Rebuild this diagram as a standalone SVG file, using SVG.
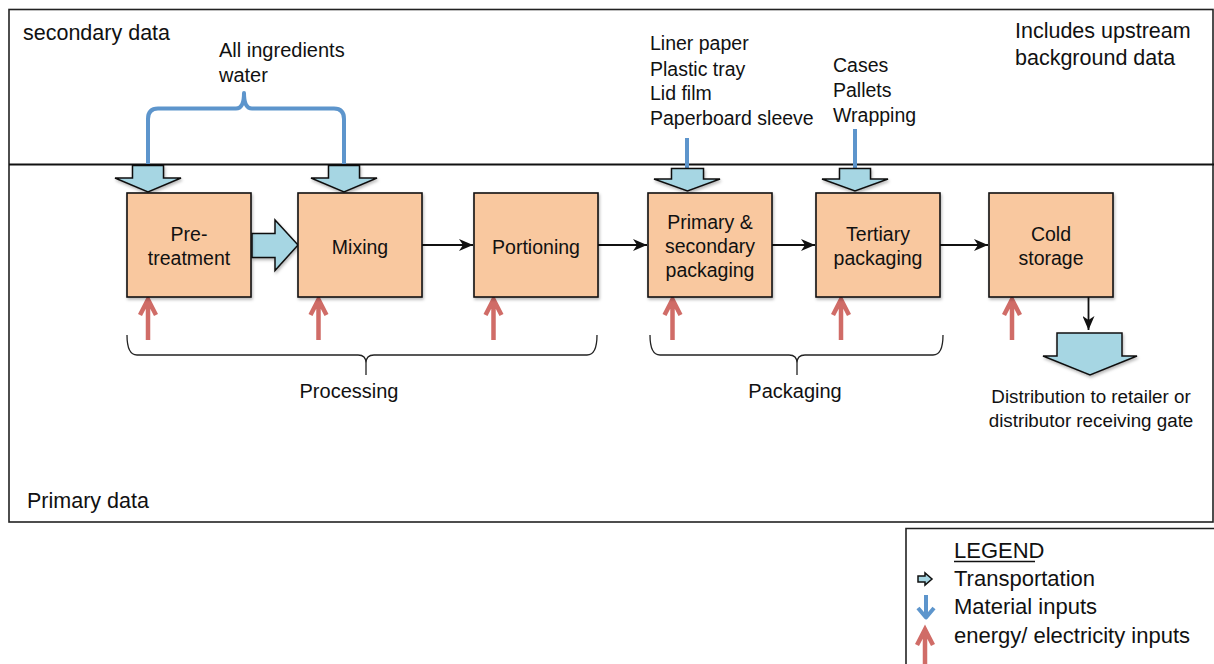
<svg xmlns="http://www.w3.org/2000/svg" xmlns:xlink="http://www.w3.org/1999/xlink" width="1214" height="664" viewBox="0 0 1214 664">
  <style>
    text { font-family: "Liberation Sans", Arial, sans-serif; fill: #111; }
    .lbl { font-size: 20px; }
    .inputs { font-size: 19.5px; }
    .region { font-size: 21.5px; }
    .box-text { font-size: 19.5px; text-anchor: middle; }
    .small { font-size: 18.8px; text-anchor: middle; }
    .legend-text { font-size: 22px; }
    .box { fill: #F9C89F; stroke: #111; stroke-width: 1.6; filter: url(#shadow); }
    .transport { fill: #A6D6E3; stroke: #111; stroke-width: 1.5; stroke-linejoin: miter; filter: url(#shadow); }
    .material { fill: none; stroke: #5D95CC; stroke-width: 4; stroke-linejoin: round; }
    .energy { fill: none; stroke: #D06C67; stroke-width: 4.5; }
    .flow { stroke: #111; stroke-width: 1.8; fill: none; marker-end: url(#stealth); }
    .brace { fill: none; stroke: #222; stroke-width: 1.3; }
    .frame { fill: none; stroke: #222; stroke-width: 1.6; }
  </style>
  <defs>
    <filter id="shadow" x="-10%" y="-10%" width="130%" height="130%">
      <feDropShadow dx="1" dy="2" stdDeviation="1.5" flood-color="#000" flood-opacity="0.28"/>
    </filter>
    <marker id="stealth" markerUnits="userSpaceOnUse" markerWidth="16" markerHeight="12" refX="14" refY="6" orient="auto">
      <path d="M0,0 L14,6 L0,12 L4,6 Z" fill="#111"/>
    </marker>
    <!-- energy input arrow: tip at origin, shaft pointing down -->
    <path id="energyArrow" class="energy" d="M0,42 V2 M-8,17 L0,1.5 L8,17"/>
    <!-- material input arrow: tip at origin, shaft pointing up -->
    <path id="materialArrow" class="material" d="M0,-24 V-2 M-8,-11 L0,-1.5 L8,-11"/>
  </defs>

  <!-- frame and divider -->
  <g id="frame">
    <rect class="frame" x="9" y="9.5" width="1204" height="512.5"/>
    <line x1="9" y1="164.5" x2="1214" y2="164.5" stroke="#111" stroke-width="2.2"/>
    <text class="region" x="23" y="40">secondary data</text>
    <text class="region" x="1015" y="38">Includes upstream</text>
    <text class="region" x="1015" y="65">background data</text>
    <text class="region" x="27" y="508">Primary data</text>
  </g>

  <!-- material inputs (secondary data) -->
  <g id="inputs">
    <text class="lbl" x="219" y="57">All ingredients</text>
    <text class="lbl" x="219" y="82">water</text>
    <text class="inputs" x="650" y="50">Liner paper</text>
    <text class="inputs" x="650" y="76">Plastic tray</text>
    <text class="inputs" x="650" y="100">Lid film</text>
    <text class="inputs" x="650" y="125">Paperboard sleeve</text>
    <text class="inputs" x="833" y="72">Cases</text>
    <text class="inputs" x="833" y="97">Pallets</text>
    <text class="inputs" x="833" y="122">Wrapping</text>
  </g>

  <!-- connectors -->
  <g id="connectors">
    <!-- material input lines -->
    <path class="material" d="M148,164 V119 Q148,108.5 158,108.5 H236 Q244,108.5 244,93 Q244,108.5 252,108.5 H334 Q344,108.5 344,119 V164"/>
    <line class="material" x1="687" y1="138" x2="687" y2="168"/>
    <line class="material" x1="855" y1="129" x2="855" y2="168"/>

    <!-- transport arrows into process boxes -->
    <path class="transport" d="M132.5,165.5 H163.5 V178 H181 L148,192 L115,178 H132.5 Z"/>
    <path class="transport" d="M328.5,165.5 H359.5 V178 H377 L344,192 L311,178 H328.5 Z"/>
    <path class="transport" d="M671.5,168.5 H703.5 V179 H720 L687.5,191 L654,179 H671.5 Z"/>
    <path class="transport" d="M839.5,168.5 H870.5 V179 H888 L855,191 L822,179 H839.5 Z"/>

    <!-- transport from pre-treatment to mixing -->
    <path class="transport" d="M252,233.5 H275 V220 L298,245 L275,270.5 V257.5 H252 Z"/>

    <!-- process flow -->
    <line class="flow" x1="422" y1="245" x2="473" y2="245"/>
    <line class="flow" x1="598" y1="245" x2="647" y2="245"/>
    <line class="flow" x1="772" y1="245" x2="815" y2="245"/>
    <line class="flow" x1="940" y1="245" x2="988" y2="245"/>
    <line class="flow" x1="1088.5" y1="297" x2="1088.5" y2="330"/>

    <!-- distribution transport -->
    <path class="transport" d="M1057,333 H1122 V356 H1137 L1090,375 L1043,356 H1057 Z"/>

    <!-- energy inputs -->
    <use xlink:href="#energyArrow" x="148" y="298"/>
    <use xlink:href="#energyArrow" x="318.5" y="298"/>
    <use xlink:href="#energyArrow" x="493.5" y="298"/>
    <use xlink:href="#energyArrow" x="672.5" y="298"/>
    <use xlink:href="#energyArrow" x="841" y="298"/>
    <use xlink:href="#energyArrow" x="1012" y="298"/>

    <!-- stage braces -->
    <path class="brace" d="M127,335 Q127,355 137,355 H358 Q366,355 366,363 V375 M366,363 Q366,355 374,355 H587 Q597,355 597,335"/>
    <path class="brace" d="M650,335 Q650,355 660,355 H789 Q797,355 797,363 V375 M797,363 Q797,355 805,355 H933 Q943,355 943,335"/>
  </g>

  <!-- process nodes -->
  <g id="node-pretreatment">
    <rect class="box" x="127" y="193" width="124" height="104"/>
    <text class="box-text" x="189" y="241">Pre-</text>
    <text class="box-text" x="189" y="265">treatment</text>
  </g>
  <g id="node-mixing">
    <rect class="box" x="298" y="193" width="124" height="104"/>
    <text class="box-text" x="360" y="254">Mixing</text>
  </g>
  <g id="node-portioning">
    <rect class="box" x="474" y="193" width="124" height="104"/>
    <text class="box-text" x="536" y="254">Portioning</text>
  </g>
  <g id="node-primary-secondary">
    <rect class="box" x="648" y="193" width="124" height="104"/>
    <text class="box-text" x="710" y="229">Primary &amp;</text>
    <text class="box-text" x="710" y="253">secondary</text>
    <text class="box-text" x="710" y="277">packaging</text>
  </g>
  <g id="node-tertiary">
    <rect class="box" x="816" y="193" width="124" height="104"/>
    <text class="box-text" x="878" y="241">Tertiary</text>
    <text class="box-text" x="878" y="265">packaging</text>
  </g>
  <g id="node-cold-storage">
    <rect class="box" x="989" y="193" width="124" height="104"/>
    <text class="box-text" x="1051" y="241">Cold</text>
    <text class="box-text" x="1051" y="265">storage</text>
  </g>

  <!-- stage labels -->
  <g id="stage-labels">
    <text class="lbl" x="349" y="398" text-anchor="middle">Processing</text>
    <text class="lbl" x="795" y="398" text-anchor="middle">Packaging</text>
    <text class="small" x="1091" y="403">Distribution to retailer or</text>
    <text class="small" x="1091" y="427">distributor receiving gate</text>
  </g>

  <!-- legend -->
  <g id="legend">
    <path d="M906,664 V528.5 H1214" fill="none" stroke="#222" stroke-width="1.6"/>
    <text class="legend-text" x="954" y="558">LEGEND</text>
    <line x1="954" y1="561.5" x2="1035" y2="561.5" stroke="#111" stroke-width="1.3"/>
    <path class="transport" d="M918,576 H925 V573 L932,579 L925,585 V582 H918 Z" style="filter:none"/>
    <text class="legend-text" x="954" y="586">Transportation</text>
    <use xlink:href="#materialArrow" x="926" y="619"/>
    <text class="legend-text" x="954" y="614">Material inputs</text>
    <use xlink:href="#energyArrow" x="925" y="628"/>
    <text class="legend-text" x="954" y="643">energy/ electricity inputs</text>
  </g>
</svg>
